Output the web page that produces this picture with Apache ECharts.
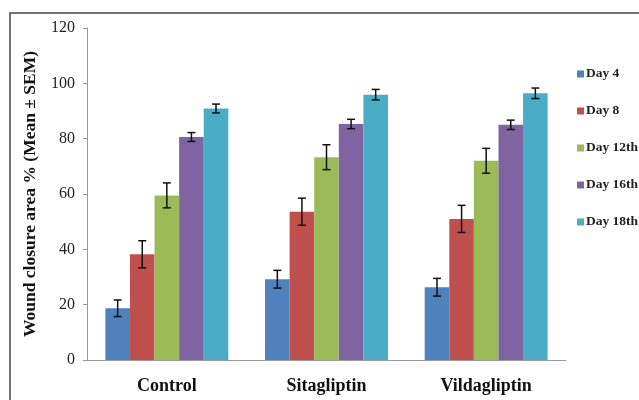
<!DOCTYPE html>
<html>
<head>
<meta charset="utf-8">
<script src="https://cdn.jsdelivr.net/npm/echarts@6/dist/echarts.min.js"></script>
<style>html,body{margin:0;padding:0;background:#fff}#c{width:639px;height:400px}</style>
</head>
<body>
<div id="c"></div>
<script>
var categories = ['Control', 'Sitagliptin', 'Vildagliptin'];
var seriesNames = ['Day 4', 'Day 8', 'Day 12th', 'Day 16th', 'Day 18th'];
var day4 = [18.7, 29.2, 26.3];
var day8 = [38.2, 53.6, 51.0];
var day12 = [59.5, 73.3, 72.0];
var day16 = [80.6, 85.3, 85.0];
var day18 = [90.9, 95.9, 96.4];
var sem4 = [3.0, 3.2, 3.2];
var sem8 = [4.9, 4.9, 4.9];
var sem12 = [4.5, 4.5, 4.5];
var sem16 = [1.6, 1.7, 1.7];
var sem18 = [1.6, 1.9, 1.9];
var yTicks = [0, 20, 40, 60, 80, 100, 120];
var colors = ['#4F81BD', '#C0504D', '#9BBB59', '#8064A2', '#4BACC6'];

var means = [day4, day8, day12, day16, day18];
var sems = [sem4, sem8, sem12, sem16, sem18];
var gapPct = 0.23;
var fontSerif = '"Liberation Serif", "DejaVu Serif", serif';

var series = [];
means.forEach(function (vals, i) {
  series.push({
    name: seriesNames[i],
    type: 'bar',
    data: vals,
    barGap: '0%',
    barCategoryGap: (gapPct * 100) + '%',
    itemStyle: { color: colors[i] },
    z: 2
  });
});
means.forEach(function (vals, i) {
  series.push({
    type: 'custom',
    z: 5,
    silent: true,
    data: vals.map(function (v, k) { return [k, v - sems[i][k], v + sems[i][k]]; }),
    encode: { x: 0, y: [1, 2] },
    renderItem: function (params, api) {
      var idx = api.value(0);
      var lo = api.coord([idx, api.value(1)]);
      var hi = api.coord([idx, api.value(2)]);
      var catW = api.size([1, 0])[0];
      var bw = catW * (1 - gapPct) / 5;
      var x = lo[0] + (i - 2) * bw;
      var cap = 4;
      var st = { stroke: '#111', lineWidth: 1.5, fill: null };
      return {
        type: 'group',
        children: [
          { type: 'line', shape: { x1: x, y1: hi[1], x2: x, y2: lo[1] }, style: st },
          { type: 'line', shape: { x1: x - cap, y1: hi[1], x2: x + cap, y2: hi[1] }, style: st },
          { type: 'line', shape: { x1: x - cap, y1: lo[1], x2: x + cap, y2: lo[1] }, style: st }
        ]
      };
    }
  });
});

var chart = echarts.init(document.getElementById('c'));
chart.setOption({
  animation: false,
  backgroundColor: '#fff',
  grid: { left: 87, right: 73, top: 28, bottom: 40, containLabel: false },
  graphic: [{
    type: 'rect',
    shape: { x: 10, y: 13, width: 700, height: 500 },
    style: { fill: null, stroke: '#444', lineWidth: 1.5 },
    silent: true
  }],
  legend: {
    data: seriesNames,
    orient: 'vertical',
    left: 572,
    top: 62,
    itemWidth: 7,
    itemHeight: 7,
    itemGap: 23,
    icon: 'rect',
    textStyle: { fontFamily: fontSerif, fontSize: 13.5, fontWeight: 'bold', color: '#222', padding: [0, 0, 0, -3] }
  },
  xAxis: {
    type: 'category',
    data: categories,
    axisLine: { lineStyle: { color: '#999', width: 1 } },
    axisTick: { show: false },
    axisLabel: { fontFamily: fontSerif, fontSize: 18, fontWeight: 'bold', color: '#111', margin: 17 }
  },
  yAxis: {
    type: 'value',
    min: yTicks[0],
    max: yTicks[yTicks.length - 1],
    interval: 20,
    splitLine: { show: false },
    axisLine: { show: true, lineStyle: { color: '#999', width: 1 } },
    axisTick: { show: true, length: 4, lineStyle: { color: '#999' } },
    axisLabel: { fontFamily: fontSerif, fontSize: 16, color: '#222', margin: 12 },
    name: 'Wound closure area % (Mean \u00b1 SEM)',
    nameLocation: 'middle',
    nameGap: 48,
    nameTextStyle: { fontFamily: fontSerif, fontSize: 17.5, fontWeight: 'bold', color: '#111' }
  },
  series: series
});
</script>
</body>
</html>
